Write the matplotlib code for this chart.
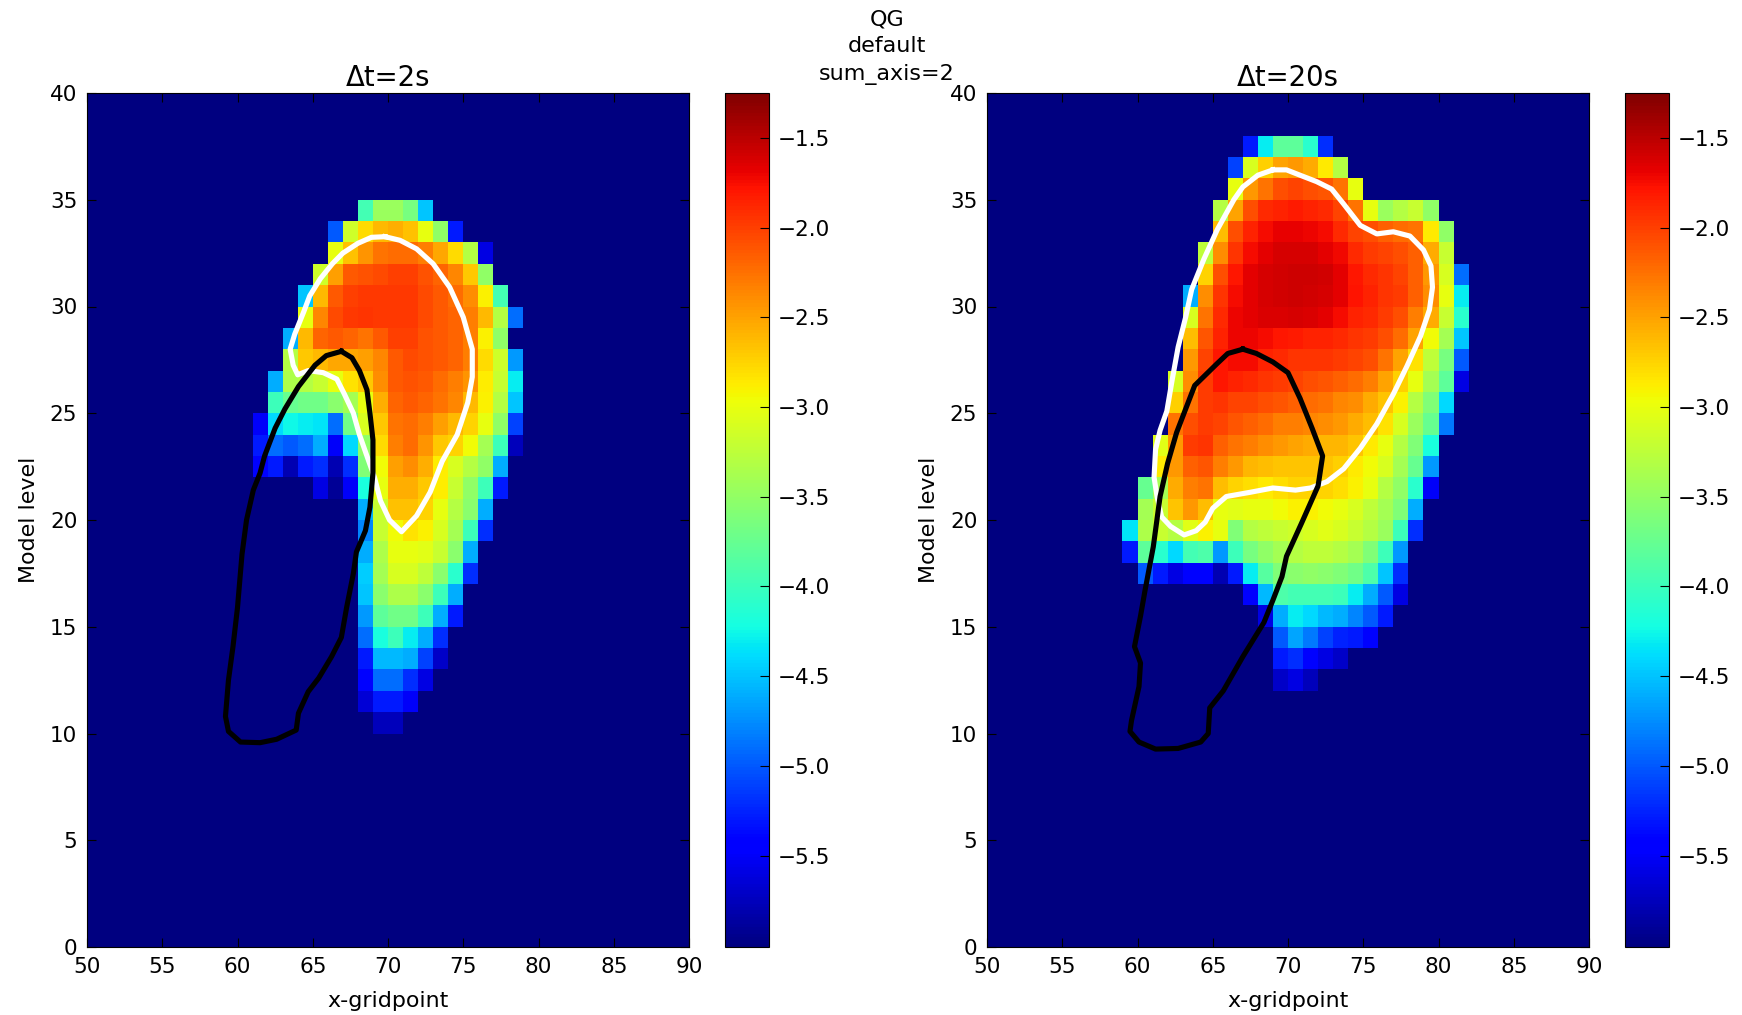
import numpy as np
import matplotlib
matplotlib.use("Agg")
import matplotlib.pyplot as plt

# model levels, first x-gridpoint of the non-empty run, log10 QG per run
levels_2s = list(range(34, 9, -1))
first_x_2s = [68, 66, 66, 65, 64, 64, 63, 63, 62, 62, 61, 61, 61, 65, 68, 68, 68, 68, 68, 68, 68, 68, 68, 68, 69]
values_2s = [
    [-3.95, -3.45, -3.45, -3.65, -4.5],
    [-5.0, -3.15, -2.78, -2.61, -2.57, -2.66, -3.0, -3.5, -5.3],
    [-3.0, -2.66, -2.44, -2.27, -2.23, -2.23, -2.31, -2.53, -2.78, -3.3, -5.6],
    [-3.15, -2.48, -2.14, -2.1, -2.05, -2.01, -2.01, -2.1, -2.18, -2.35, -2.7, -3.5],
    [-4.5, -2.61, -2.14, -2.01, -1.97, -1.97, -1.97, -1.97, -2.05, -2.14, -2.23, -2.4, -2.9, -3.95],
    [-3.0, -2.35, -2.05, -1.97, -1.95, -1.97, -1.97, -1.97, -2.05, -2.14, -2.18, -2.31, -2.61, -3.3, -4.9],
    [-4.6, -2.61, -2.18, -2.14, -2.18, -2.27, -2.14, -2.01, -2.01, -2.1, -2.14, -2.18, -2.31, -2.9, -3.5],
    [-3.3, -2.7, -2.61, -2.53, -2.53, -2.48, -2.35, -2.14, -2.05, -2.1, -2.14, -2.18, -2.31, -2.78, -3.15, -4.7],
    [-4.6, -3.35, -3.3, -3.2, -3.0, -2.83, -2.7, -2.4, -2.14, -2.1, -2.14, -2.23, -2.31, -2.44, -2.87, -3.2, -4.3],
    [-4.0, -3.75, -3.7, -3.7, -3.55, -3.4, -3.0, -2.57, -2.18, -2.14, -2.18, -2.27, -2.35, -2.61, -2.9, -3.3, -4.5],
    [-5.5, -4.4, -4.25, -4.3, -4.35, -4.9, -3.7, -3.1, -2.7, -2.27, -2.23, -2.31, -2.48, -2.61, -2.74, -3.0, -3.5, -5.1],
    [-5.3, -4.9, -5.0, -4.9, -4.6, -5.5, -4.4, -3.5, -2.78, -2.31, -2.23, -2.44, -2.7, -2.74, -2.95, -3.4, -4.0, -5.75],
    [-5.4, -5.3, -5.8, -5.3, -5.2, -5.8, -5.2, -3.6, -2.95, -2.48, -2.4, -2.57, -2.87, -3.1, -3.3, -3.5, -4.6],
    [-5.6, -5.9, -5.5, -4.2, -3.0, -2.57, -2.57, -2.7, -2.87, -3.2, -3.5, -4.0, -5.3],
    [-4.6, -3.2, -2.66, -2.66, -2.74, -3.0, -3.3, -3.55, -4.6],
    [-4.8, -3.2, -2.95, -2.83, -2.9, -3.1, -3.4, -4.0, -5.2],
    [-4.6, -3.35, -3.0, -3.0, -3.05, -3.2, -3.55, -4.6],
    [-4.45, -3.4, -3.1, -3.1, -3.25, -3.55, -4.1, -5.2],
    [-4.5, -3.55, -3.35, -3.35, -3.55, -4.0, -4.6],
    [-4.7, -3.8, -3.7, -3.7, -4.0, -4.6, -5.3],
    [-4.9, -4.2, -4.0, -4.3, -4.6, -5.2],
    [-5.3, -4.55, -4.55, -4.6, -5.1, -5.7],
    [-5.4, -4.9, -4.9, -5.2, -5.6],
    [-5.65, -5.3, -5.3, -5.5],
    [-5.75, -5.75],
]

levels_20s = list(range(37, 11, -1))
first_x_20s = [67, 66, 66, 65, 65, 64, 64, 63, 63, 63, 63, 62, 62, 62, 61, 61, 60, 60, 59, 59, 60, 67, 68, 69, 69, 69]
values_20s = [
    [-5.3, -4.3, -3.8, -3.8, -4.1, -5.2],
    [-5.1, -3.1, -2.72, -2.5, -2.45, -2.54, -2.85, -3.3],
    [-3.0, -2.45, -2.26, -2.08, -2.03, -2.08, -2.12, -2.26, -3.0],
    [-3.3, -2.5, -2.08, -1.9, -1.85, -1.82, -1.85, -1.9, -2.03, -2.26, -3.0, -3.45, -3.3, -3.2, -3.5],
    [-2.63, -2.08, -1.85, -1.74, -1.69, -1.69, -1.71, -1.75, -1.9, -2.03, -2.08, -2.17, -2.22, -2.26, -2.85, -3.5],
    [-3.25, -2.4, -1.94, -1.75, -1.67, -1.62, -1.62, -1.62, -1.67, -1.73, -1.9, -1.99, -2.03, -2.08, -2.17, -2.54, -3.2],
    [-2.75, -2.08, -1.8, -1.67, -1.62, -1.59, -1.57, -1.57, -1.59, -1.67, -1.8, -1.9, -1.94, -2.03, -2.17, -2.45, -3.1, -4.9],
    [-4.6, -2.4, -1.94, -1.75, -1.67, -1.62, -1.59, -1.57, -1.59, -1.62, -1.67, -1.78, -1.85, -1.94, -1.99, -2.17, -2.4, -3.0, -4.3],
    [-3.1, -2.26, -1.9, -1.71, -1.67, -1.64, -1.64, -1.62, -1.64, -1.67, -1.75, -1.85, -1.9, -1.99, -2.08, -2.31, -2.54, -3.2, -4.1],
    [-2.63, -2.12, -1.85, -1.71, -1.71, -1.75, -1.8, -1.82, -1.85, -1.85, -1.9, -1.94, -1.99, -2.08, -2.22, -2.5, -2.95, -3.4, -4.5],
    [-2.45, -2.03, -1.8, -1.75, -1.75, -1.85, -1.9, -1.94, -1.94, -1.94, -1.99, -2.03, -2.08, -2.26, -2.5, -2.82, -3.25, -3.65, -5.0],
    [-3.1, -2.4, -1.99, -1.8, -1.85, -1.9, -1.94, -1.99, -2.03, -2.08, -2.12, -2.17, -2.22, -2.31, -2.5, -2.72, -3.0, -3.4, -3.8, -5.6],
    [-2.72, -2.26, -1.99, -1.94, -2.03, -2.03, -2.08, -2.12, -2.17, -2.22, -2.26, -2.36, -2.4, -2.54, -2.68, -2.9, -3.3, -3.6, -4.4],
    [-2.26, -2.08, -1.99, -2.03, -2.12, -2.17, -2.22, -2.31, -2.31, -2.36, -2.4, -2.45, -2.54, -2.63, -2.82, -3.1, -3.45, -3.75, -4.85],
    [-3.05, -2.45, -1.99, -1.94, -2.17, -2.26, -2.31, -2.4, -2.45, -2.5, -2.54, -2.59, -2.59, -2.68, -2.85, -3.0, -3.3, -3.6, -4.2],
    [-2.85, -2.45, -2.17, -2.12, -2.31, -2.45, -2.59, -2.63, -2.68, -2.68, -2.68, -2.68, -2.72, -2.85, -2.95, -3.1, -3.4, -3.75, -4.7],
    [-3.75, -3.4, -2.54, -2.31, -2.26, -2.63, -2.75, -2.8, -2.85, -2.8, -2.75, -2.75, -2.75, -2.8, -2.9, -3.0, -3.3, -3.5, -4.1, -5.5],
    [-3.4, -3.2, -2.68, -2.45, -2.63, -3.0, -3.05, -3.0, -3.0, -2.95, -2.9, -2.9, -2.95, -3.0, -3.1, -3.25, -3.4, -3.6, -4.6],
    [-4.35, -3.35, -3.2, -3.3, -3.05, -2.9, -3.0, -3.6, -3.3, -3.25, -3.2, -3.15, -3.1, -3.05, -3.1, -3.2, -3.3, -3.45, -4.0, -5.2],
    [-5.3, -3.8, -4.1, -4.4, -3.95, -3.9, -4.7, -4.0, -3.65, -3.5, -3.4, -3.3, -3.25, -3.25, -3.3, -3.4, -3.6, -4.0, -4.7],
    [-5.0, -5.3, -5.6, -5.4, -5.4, -5.8, -5.3, -4.3, -3.85, -3.6, -3.55, -3.5, -3.55, -3.6, -3.7, -3.9, -4.5, -5.2],
    [-5.4, -4.55, -3.9, -3.95, -3.95, -3.95, -4.0, -4.3, -4.6, -5.0, -5.6],
    [-5.6, -4.6, -4.3, -4.4, -4.55, -4.6, -4.8, -5.0, -5.3],
    [-5.0, -4.65, -4.85, -5.1, -5.25, -5.3, -5.4],
    [-5.3, -5.2, -5.4, -5.6, -5.7],
    [-5.7, -5.6, -5.75],
]

# contours
white_x_2s = [69.8, 68.9, 68.0, 67.0, 66.3, 65.5, 64.8, 64.4, 63.8, 63.5, 63.7, 64.0, 64.7, 65.7, 66.6, 67.1, 67.7, 68.1, 68.6, 69.1, 69.5, 70.1, 70.9, 71.9, 72.8, 73.6, 74.6, 75.3, 75.6, 75.6, 75.0, 74.1, 73.0, 71.9, 70.8, 69.8]
white_y_2s = [33.27, 33.24, 32.96, 32.5, 32.0, 31.3, 30.5, 29.75, 28.7, 28.0, 27.25, 26.8, 27.0, 26.9, 26.6, 25.9, 25.0, 24.0, 23.0, 22.0, 20.9, 20.0, 19.45, 20.2, 21.3, 22.75, 24.0, 25.5, 26.7, 28.0, 29.5, 30.9, 32.0, 32.7, 33.1, 33.27]
black_x_2s = [66.9, 65.9, 65.15, 64.05, 63.15, 62.5, 61.8, 61.5, 61.05, 60.6, 60.3, 60.0, 59.7, 59.4, 59.2, 59.4, 60.2, 61.5, 62.6, 63.9, 64.05, 64.7, 65.4, 66.25, 66.9, 67.25, 67.7, 67.9, 68.5, 68.8, 69.0, 69.0, 68.8, 68.6, 68.1, 67.6, 66.9]
black_y_2s = [27.9, 27.7, 27.25, 26.25, 25.2, 24.3, 23.0, 22.2, 21.4, 20.0, 18.4, 15.9, 14.07, 12.5, 10.8, 10.1, 9.6, 9.57, 9.73, 10.16, 10.95, 11.96, 12.6, 13.6, 14.5, 15.9, 17.5, 18.5, 19.5, 20.6, 22.2, 23.75, 25.0, 26.1, 27.0, 27.6, 27.9]
white_x_20s = [69.0, 69.9, 70.8, 71.9, 72.9, 73.7, 74.8, 75.9, 77.0, 78.1, 79.0, 79.5, 79.6, 79.4, 78.8, 77.9, 77.0, 75.9, 74.8, 73.7, 72.6, 71.5, 70.5, 69.0, 67.5, 65.9, 65.0, 64.5, 63.9, 63.1, 62.2, 61.6, 61.3, 61.1, 61.2, 61.5, 61.95, 62.3, 62.7, 63.2, 63.6, 64.4, 65.3, 66.4, 67.0, 68.0, 69.0]
white_y_20s = [36.4, 36.4, 36.15, 35.85, 35.5, 34.8, 33.8, 33.4, 33.5, 33.3, 32.65, 31.9, 30.9, 29.85, 28.6, 27.2, 25.9, 24.5, 23.36, 22.4, 21.8, 21.5, 21.4, 21.5, 21.3, 21.1, 20.55, 19.9, 19.5, 19.3, 19.7, 20.15, 21.1, 22.0, 23.3, 24.2, 25.1, 26.55, 28.1, 29.5, 30.8, 32.2, 33.6, 35.0, 35.6, 36.15, 36.4]
black_x_20s = [67.0, 66.0, 65.25, 63.8, 63.2, 62.6, 62.0, 61.5, 61.05, 60.5, 60.2, 59.8, 60.2, 60.1, 59.6, 59.5, 60.1, 61.2, 62.7, 64.2, 64.7, 64.8, 65.7, 67.0, 68.4, 69.0, 69.6, 69.9, 70.9, 72.0, 72.3, 71.6, 70.8, 70.0, 69.0, 67.9, 67.0]
black_y_20s = [28.0, 27.8, 27.3, 26.3, 25.2, 24.1, 22.65, 21.1, 18.75, 16.7, 15.5, 14.07, 13.3, 12.2, 10.6, 10.1, 9.6, 9.27, 9.3, 9.6, 10.0, 11.2, 12.0, 13.6, 15.2, 16.25, 17.35, 18.3, 19.85, 21.6, 23.0, 24.3, 25.7, 26.9, 27.4, 27.8, 28.0]

cbar_ticks = [-5.5, -5.0, -4.5, -4.0, -3.5, -3.0, -2.5, -2.0, -1.5]
VMIN = -6.01
VMAX = -1.25
W, H = 1742, 1015


def make_grid(levels, first_x, values):
    grid = np.full((40, 40), VMIN)
    for level, x0, row in zip(levels, first_x, values):
        grid[level, x0 - 50:x0 - 50 + len(row)] = row
    return grid


def box(x0, x1, y0, y1):
    return [x0 / W, 1 - y1 / H, (x1 - x0) / W, (y1 - y0) / H]


def panel(left, title, grid, white_x, white_y, black_x, black_y):
    ax = plt.gcf().add_axes(box(left, left + 602, 93, 947))
    xe = np.arange(50, 91)
    ye = np.arange(0, 41)
    mesh = ax.pcolormesh(xe, ye, grid, cmap="jet", vmin=VMIN, vmax=VMAX, rasterized=True)
    ax.plot(white_x, white_y, color="white", lw=3.7)
    ax.plot(black_x, black_y, color="black", lw=3.7)
    ax.set_xlim(50, 90)
    ax.set_ylim(0, 40)
    ax.set_xticks(np.arange(50, 91, 5))
    ax.set_yticks(np.arange(0, 41, 5))
    ax.tick_params(direction="in", top=True, right=True, length=6.5, labelsize=15.5, pad=7)
    ax.set_xlabel("x-gridpoint", fontsize=15.9, labelpad=10)
    ax.set_ylabel("Model level", fontsize=15.9, labelpad=8)
    ax.set_title(title, fontsize=19.8, pad=5)

    cax = plt.gcf().add_axes(box(left + 638, left + 682, 93, 947))
    cb = plt.colorbar(mesh, cax=cax)
    cb.set_ticks(cbar_ticks)
    cb.ax.tick_params(direction="in", length=6.5, labelsize=15.5, pad=6)
    return ax


def main():
    plt.figure(figsize=(W / 100, H / 100), dpi=100)
    panel(87, "\u0394t=2s", make_grid(levels_2s, first_x_2s, values_2s),
          white_x_2s, white_y_2s, black_x_2s, black_y_2s)
    panel(987, "\u0394t=20s", make_grid(levels_20s, first_x_20s, values_20s),
          white_x_20s, white_y_20s, black_x_20s, black_y_20s)
    plt.figtext(887 / W, 1 - 47 / H, "QG\ndefault\nsum_axis=2", ha="center", va="center",
                fontsize=16, linespacing=1.45)
    plt.savefig("out.png", dpi=100)


if __name__ == "__main__":
    main()
